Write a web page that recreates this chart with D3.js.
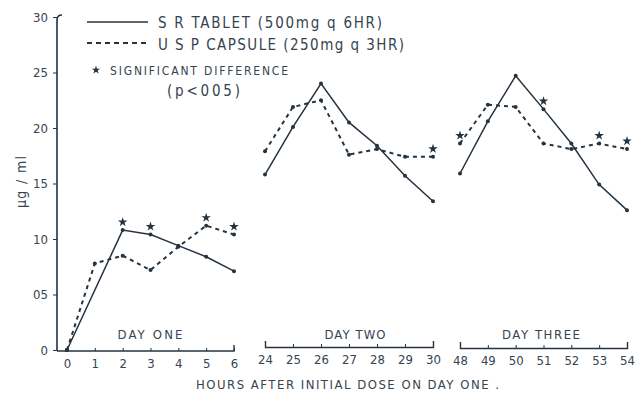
<!DOCTYPE html>
<html>
<head>
<meta charset="utf-8">
<script src="https://cdn.jsdelivr.net/npm/d3@7/dist/d3.min.js"></script>
<style>
  body { margin: 0; background: #fff; }
  svg { display: block; }
  text { font-family: 'Liberation Sans Narrow', 'DejaVu Sans Condensed', sans-serif; fill: #35444f; }
</style>
</head>
<body>
<svg id="chart" width="636" height="394"></svg>
<script>
// Sampling hours for each day (hours after the initial dose on day one)
const hoursDay1 = [0, 1, 2, 3, 4, 5, 6];
const hoursDay2 = [24, 25, 26, 27, 28, 29, 30];
const hoursDay3 = [48, 49, 50, 51, 52, 53, 54];

// Serum levels, S R tablet (500 mg q 6 hr); no sample at hour 1 on day one
const tabletDay1 = [0, null, 10.8, 10.4, 9.4, 8.4, 7.1];
const tabletDay2 = [15.8, 20.1, 24.0, 20.5, 18.4, 15.7, 13.4];
const tabletDay3 = [15.9, 20.6, 24.7, 21.7, 18.6, 14.9, 12.6];

// Serum levels, U S P capsule (250 mg q 3 hr)
const capsuleDay1 = [0, 7.8, 8.5, 7.2, 9.3, 11.2, 10.4];
const capsuleDay2 = [17.9, 21.9, 22.5, 17.6, 18.1, 17.4, 17.4];
const capsuleDay3 = [18.6, 22.1, 21.9, 18.6, 18.1, 18.6, 18.1];

// Hours with a significant difference (p < 0.05)
const starHours = [2, 3, 5, 6, 30, 48, 51, 53, 54];

const yTicks = [0, 5, 10, 15, 20, 25, 30];
const yTickLabels = ["0", "05", "10", "15", "20", "25", "30"];
const dayLabels = ["DAY ONE", "DAY TWO", "DAY THREE"];

const ink = "#24333f";
const svg = d3.select("#chart");

// Broken time axis: three six-hour windows side by side
const x = d3.scaleLinear()
  .domain([0, 6, 24, 30, 48, 54])
  .range([67, 234, 265, 433, 460, 627]);
const y = d3.scaleLinear().domain([0, 30]).range([350, 17]);

const days = [
  { hours: hoursDay1, tablet: tabletDay1, capsule: capsuleDay1, axisY: 351, labelX: 150, labelLen: 65 },
  { hours: hoursDay2, tablet: tabletDay2, capsule: capsuleDay2, axisY: 347, labelX: 355, labelLen: 61 },
  { hours: hoursDay3, tablet: tabletDay3, capsule: capsuleDay3, axisY: 348, labelX: 541, labelLen: 78 }
];

// Y axis
const yAxis = svg.append("g")
  .attr("transform", "translate(57,0)")
  .attr("color", ink)
  .call(d3.axisLeft(y).tickValues(yTicks)
    .tickFormat((d, i) => yTickLabels[i])
    .tickSize(4).tickSizeOuter(0).tickPadding(5));
yAxis.select(".domain").attr("d", `M5,${y(30) - 2}Q0,${y(30) - 2} 0,${y(30) + 3}V351`).attr("stroke-width", 1.6);
yAxis.selectAll("text").attr("font-size", 13).attr("fill", "#35444f");

svg.append("text")
  .attr("transform", "translate(26,182) rotate(-90)")
  .attr("text-anchor", "middle")
  .attr("font-size", 14)
  .attr("textLength", 52)
  .text("μg / ml");

// One bracketed time axis per day
days.forEach((day, i) => {
  const h0 = day.hours[0], h1 = day.hours[day.hours.length - 1];
  const sub = d3.scaleLinear().domain([h0, h1]).range([x(h0), x(h1)]);
  const g = svg.append("g")
    .attr("transform", `translate(0,${day.axisY})`)
    .attr("color", ink)
    .call(d3.axisBottom(sub).tickValues(day.hours)
      .tickFormat(d3.format("d"))
      .tickSize(-3).tickSizeOuter(-6).tickPadding(8));
  g.select(".domain").attr("stroke-width", 1.4);
  if (i === 0) g.select(".domain").attr("d", `M57,0H${x(h1)}V-6`);
  g.selectAll("text").attr("font-size", 13).attr("fill", "#35444f");

  svg.append("text")
    .attr("x", day.labelX).attr("y", 339)
    .attr("text-anchor", "middle")
    .attr("font-size", 13)
    .attr("textLength", day.labelLen)
    .text(dayLabels[i]);
});

svg.append("text")
  .attr("x", 196).attr("y", 389)
  .attr("font-size", 13)
  .attr("textLength", 303)
  .text("HOURS AFTER INITIAL DOSE ON DAY ONE .");

// Curves
const line = d3.line()
  .defined(d => d.v != null)
  .x(d => x(d.h)).y(d => y(d.v));

days.forEach(day => {
  const tab = day.hours.map((h, j) => ({ h, v: day.tablet[j] }));
  const cap = day.hours.map((h, j) => ({ h, v: day.capsule[j] }));
  const tabPts = tab.filter(d => d.v != null);

  svg.append("path").datum(tabPts)
    .attr("d", line).attr("fill", "none")
    .attr("stroke", ink).attr("stroke-width", 1.5);
  svg.append("path").datum(cap)
    .attr("d", line).attr("fill", "none")
    .attr("stroke", ink).attr("stroke-width", 2)
    .attr("stroke-dasharray", "4,4");

  svg.selectAll(null).data(tabPts.concat(cap)).enter().append("circle")
    .attr("cx", d => x(d.h)).attr("cy", d => y(d.v))
    .attr("r", 2).attr("fill", ink);
});

// Significance stars above the higher of the two readings
const valueAt = h => {
  const day = days.find(dd => dd.hours.includes(h));
  const j = day.hours.indexOf(h);
  return d3.max([day.tablet[j], day.capsule[j]]);
};
svg.selectAll(".star").data(starHours).enter().append("path")
  .attr("class", "star")
  .attr("d", d3.symbol(d3.symbolStar, 28))
  .attr("transform", h => `translate(${x(h)},${y(valueAt(h)) - 8})`)
  .attr("fill", ink);

// Legend
const legend = svg.append("g");
legend.append("line")
  .attr("x1", 87).attr("x2", 148).attr("y1", 22).attr("y2", 22)
  .attr("stroke", ink).attr("stroke-width", 1.5);
legend.append("line")
  .attr("x1", 87).attr("x2", 148).attr("y1", 43).attr("y2", 43)
  .attr("stroke", ink).attr("stroke-width", 2).attr("stroke-dasharray", "5,4");
legend.append("path")
  .attr("d", d3.symbol(d3.symbolStar, 22))
  .attr("transform", "translate(96,70)")
  .attr("fill", ink);
legend.append("text").attr("x", 158).attr("y", 28)
  .attr("font-size", 15).attr("textLength", 224)
  .text("S R TABLET (500mg q 6HR)");
legend.append("text").attr("x", 158).attr("y", 50)
  .attr("font-size", 15).attr("textLength", 246)
  .text("U S P CAPSULE (250mg q 3HR)");
legend.append("text").attr("x", 110).attr("y", 75)
  .attr("font-size", 12).attr("textLength", 178)
  .text("SIGNIFICANT DIFFERENCE");
legend.append("text").attr("x", 167).attr("y", 96)
  .attr("font-size", 15).attr("textLength", 73)
  .text("(p<005)");
</script>
</body>
</html>
